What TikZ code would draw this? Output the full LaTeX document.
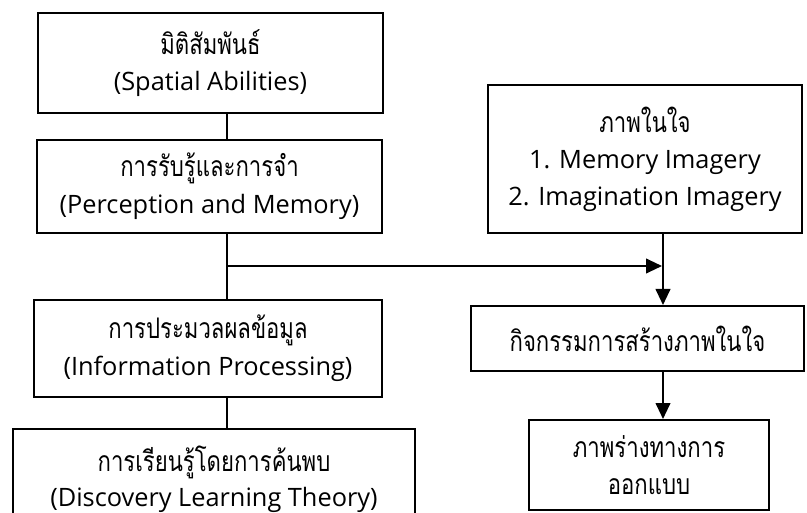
\documentclass[tikz,border=0pt]{standalone}
\usepackage{fontspec}
\setmainfont{Open Sans}
\newfontfamily\thai[Script=Thai, Scale=1.12, FakeStretch=0.78]{Loma}
\usetikzlibrary{arrows.meta}

\tikzset{
  box/.style={draw, line width=1.5pt, rectangle, inner sep=0pt, align=center,
    font=\fontsize{19}{27.5}\selectfont},
  link/.style={line width=1.5pt},
  flow/.style={line width=1.5pt, -{Triangle[length=12pt, width=11pt]}},
}

\begin{document}
\begin{tikzpicture}[x=0.75pt, y=-0.75pt]
\useasboundingbox (0,0) rectangle (807,513);

% left column
\node[box, minimum width=258.75pt, minimum height=75pt] (spatial) at (210.5,63)
  {{\thai มิติสัมพันธ์}\\(Spatial Abilities)};
\node[box, minimum width=258.75pt, minimum height=69.75pt] (percept) at (209.5,186.5)
  {{\thai การรับรู้และการจำ}\\(Perception and Memory)};
\node[box, minimum width=261pt, minimum height=72.75pt] (info) at (208,348.5)
  {{\thai การประมวลผลข้อมูล}\\(Information Processing)};
\node[box, minimum width=301.5pt, minimum height=105pt, anchor=north] (discov) at (214,428) {};
\node[align=center, font=\fontsize{19}{26}\selectfont] (discovtxt) at (214,479)
  {{\thai การเรียนรู้โดยการค้นพบ}\\(Discovery Learning Theory)};

% right column
\node[box, minimum width=235.5pt, minimum height=111pt] (image) at (645,159)
  {{\thai ภาพในใจ}\\1. Memory Imagery\\2. Imagination Imagery};
\node[box, minimum width=249.75pt, minimum height=48.75pt] (activity) at (637.5,338.5)
  {\thai กิจกรรมการสร้างภาพในใจ};
\node[box, minimum width=180pt, minimum height=67.5pt] (sketch) at (649,465)
  {{\thai ภาพร่างทางการ}\\{\thai ออกแบบ}};

% spines of both columns
\coordinate (lspine) at (227,0);
\coordinate (rspine) at (663,0);
\coordinate (fork) at (227,266);

\draw[link] (spatial.south -| lspine) -- (percept.north -| lspine);
\draw[link] (percept.south -| lspine) -- (info.north -| lspine);
\draw[link] (info.south -| lspine) -- (discov.north -| lspine);
\draw[flow, shorten >=0.75pt] (fork) -- (fork -| rspine);
\draw[flow] (image.south -| rspine) -- (activity.north -| rspine);
\draw[flow] (activity.south -| rspine) -- (sketch.north -| rspine);
\end{tikzpicture}
\end{document}
